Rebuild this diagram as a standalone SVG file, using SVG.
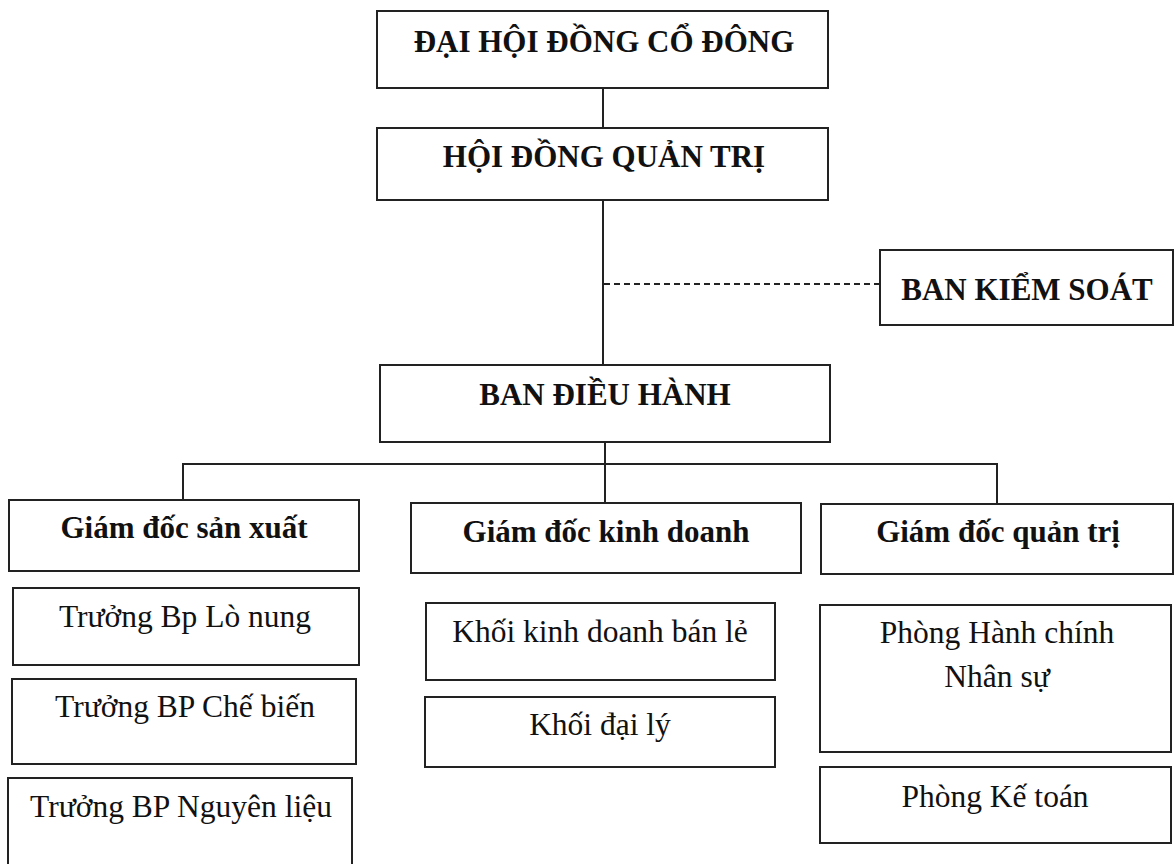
<svg xmlns="http://www.w3.org/2000/svg" width="1176" height="864" viewBox="0 0 1176 864">
<style>
.box{fill:#fff;stroke:#222;stroke-width:2}
.ln{fill:none;stroke:#222;stroke-width:2}
.dash{fill:none;stroke:#222;stroke-width:2;stroke-dasharray:6 4}
.b{font-family:"Liberation Serif","Times New Roman",serif;font-weight:bold;font-size:31px;fill:#111;text-anchor:middle}
.r{font-family:"Liberation Serif","Times New Roman",serif;font-size:31.5px;fill:#111;text-anchor:middle}
</style>
<rect width="1176" height="864" fill="#fff"/>
<g id="connectors">
<line class="ln" x1="603" y1="88" x2="603" y2="128"/>
<line class="ln" x1="603" y1="200" x2="603" y2="365"/>
<line class="dash" x1="604" y1="284" x2="880" y2="284"/>
<line class="ln" x1="605" y1="442" x2="605" y2="503"/>
<polyline class="ln" points="183,500 183,464 997,464 997,504"/>
</g>
<g id="dhdcd"><rect class="box" x="377" y="11" width="451" height="77"/><text class="b" x="604" y="52">ĐẠI HỘI ĐỒNG CỔ ĐÔNG</text></g>
<g id="hdqt"><rect class="box" x="377" y="128" width="451" height="72"/><text class="b" x="604" y="167">HỘI ĐỒNG QUẢN TRỊ</text></g>
<g id="bks"><rect class="box" x="880" y="250" width="293" height="75"/><text class="b" x="1027" y="300">BAN KIỂM SOÁT</text></g>
<g id="bdh"><rect class="box" x="380" y="365" width="450" height="77"/><text class="b" x="605" y="405">BAN ĐIỀU HÀNH</text></g>
<g id="gdsx"><rect class="box" x="9" y="500" width="350" height="71"/><text class="b" x="184" y="538">Giám đốc sản xuất</text></g>
<g id="gdkd"><rect class="box" x="411" y="503" width="390" height="70"/><text class="b" x="606" y="542">Giám đốc kinh doanh</text></g>
<g id="gdqt"><rect class="box" x="821" y="504" width="352" height="70"/><text class="b" x="998" y="542">Giám đốc quản trị</text></g>
<g id="lonung"><rect class="box" x="13" y="588" width="346" height="77"/><text class="r" x="185" y="627">Trưởng Bp Lò nung</text></g>
<g id="chebien"><rect class="box" x="12" y="679" width="344" height="85"/><text class="r" x="185" y="717">Trưởng BP Chế biến</text></g>
<g id="nguyenlieu"><rect class="box" x="8" y="778" width="344" height="92"/><text class="r" x="181" y="817">Trưởng BP Nguyên liệu</text></g>
<g id="banle"><rect class="box" x="426" y="603" width="349" height="77"/><text class="r" x="600" y="642">Khối kinh doanh bán lẻ</text></g>
<g id="daily"><rect class="box" x="425" y="697" width="350" height="70"/><text class="r" x="600" y="735">Khối đại lý</text></g>
<g id="hcns"><rect class="box" x="820" y="605" width="351" height="147"/><text class="r" x="997" y="643">Phòng Hành chính</text><text class="r" x="997" y="687">Nhân sự</text></g>
<g id="ketoan"><rect class="box" x="820" y="767" width="351" height="76"/><text class="r" x="995" y="807">Phòng Kế toán</text></g>
</svg>
